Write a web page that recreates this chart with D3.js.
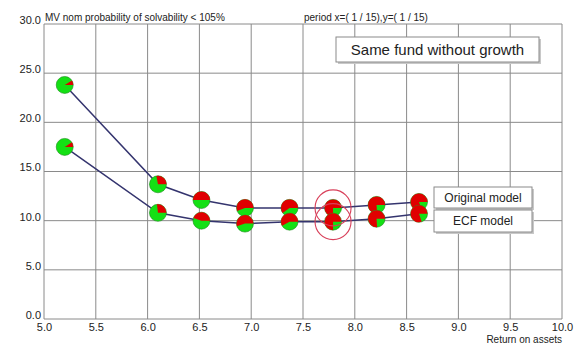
<!DOCTYPE html>
<html>
<head>
<meta charset="utf-8">
<script src="https://cdn.jsdelivr.net/npm/d3@7/dist/d3.min.js"></script>
<style>
  html, body { margin: 0; padding: 0; background: #fff; }
  svg { display: block; font-family: "Liberation Sans", Arial, sans-serif; }
</style>
</head>
<body>
<svg id="chart" width="579" height="347"></svg>
<script>
// Return on assets (x) for each computed point
const returnOnAssets = [5.2, 6.1, 6.52, 6.94, 7.37, 7.79, 8.21, 8.62];
// Probability of solvability < 105% (%), per model
const originalModel = [23.8, 13.7, 12.1, 11.3, 11.3, 11.3, 11.6, 11.9];
const ecfModel      = [17.5, 10.8, 10.0, 9.7, 9.9, 9.9, 10.2, 10.7];
// Red share of each pie marker
const originalRedShare = [0.09, 0.28, 0.5, 0.56, 0.6, 0.75, 0.76, 0.8];
const ecfRedShare      = [0.09, 0.27, 0.45, 0.55, 0.58, 0.75, 0.76, 0.8];
// Index of the highlighted point pair
const highlighted = [5];

const xTicks = [5.0, 5.5, 6.0, 6.5, 7.0, 7.5, 8.0, 8.5, 9.0, 9.5, 10.0];
const yTicks = [0, 5, 10, 15, 20, 25, 30];
const titleText = "MV nom probability of solvability < 105%";
const periodText = "period x=( 1 / 15),y=( 1 / 15)";
const noteText = "Same fund without growth";
const legendLabels = ["Original model", "ECF model"];
const xTitle = "Return on assets";

const svg = d3.select("#chart");
const x = d3.scaleLinear().domain([5, 10]).range([44, 562]);
const y = d3.scaleLinear().domain([0, 30]).range([319, 24]);

const gridColor = "#8a8a8a";
const textColor = "#222";

// grid
const grid = svg.append("g");
grid.selectAll("line.v").data(xTicks).join("line")
  .attr("x1", d => x(d)).attr("x2", d => x(d))
  .attr("y1", y(30)).attr("y2", y(0))
  .attr("stroke", gridColor).attr("stroke-width", 1);
grid.selectAll("line.h").data(yTicks).join("line")
  .attr("x1", x(5)).attr("x2", x(10))
  .attr("y1", d => y(d)).attr("y2", d => y(d))
  .attr("stroke", gridColor).attr("stroke-width", 1);

// axes (labels only, ticks drawn as grid)
const xAxis = d3.axisBottom(x).tickValues(xTicks).tickFormat(d3.format(".1f")).tickSize(0).tickPadding(3);
const gx = svg.append("g").attr("transform", `translate(0,${y(0)})`).call(xAxis);
gx.select(".domain").remove();
gx.selectAll("text").attr("fill", textColor).style("font-size", "11px")
  .attr("dy", "0.85em");

const yAxis = d3.axisLeft(y).tickValues(yTicks).tickFormat(d3.format(".1f")).tickSize(0).tickPadding(3);
const gy = svg.append("g").attr("transform", `translate(${x(5)},0)`).call(yAxis);
gy.select(".domain").remove();
gy.selectAll("text").attr("fill", textColor).style("font-size", "11px")
  .attr("dy", "-0.05em");

svg.append("text").attr("x", x(10)).attr("y", 343).attr("text-anchor", "end")
  .attr("fill", textColor).style("font-size", "10px").text(xTitle);

svg.append("text").attr("x", x(5) + 1).attr("y", 21)
  .attr("fill", textColor).style("font-size", "10px").text(titleText);
svg.append("text").attr("x", 304).attr("y", 21)
  .attr("fill", textColor).style("font-size", "10px").text(periodText);

// connecting lines
const line = d3.line().x((d, i) => x(returnOnAssets[i])).y(d => y(d));
[originalModel, ecfModel].forEach(series => {
  svg.append("path").datum(series).attr("d", line)
    .attr("fill", "none").attr("stroke", "#34346e").attr("stroke-width", 1.5);
});

// pie markers
const r = 8.5;
const arc = d3.arc().innerRadius(0).outerRadius(r);
function drawPies(values, shares) {
  const g = svg.append("g");
  values.forEach((v, i) => {
    const cx = x(returnOnAssets[i]), cy = y(v);
    const m = g.append("g").attr("transform", `translate(${cx},${cy})`);
    m.append("circle").attr("r", r).attr("fill", "#14e014")
      .attr("stroke", "#1c8a1c").attr("stroke-width", 0.6);
    const a = shares[i] * 2 * Math.PI;
    m.append("path")
      .attr("d", arc({ startAngle: Math.PI / 2 - a, endAngle: Math.PI / 2 }))
      .attr("fill", "#e00000");
  });
}
drawPies(originalModel, originalRedShare);
drawPies(ecfModel, ecfRedShare);

// highlight rings around selected pair
highlighted.forEach(i => {
  [originalModel[i], ecfModel[i]].forEach(v => {
    svg.append("circle").attr("cx", x(returnOnAssets[i])).attr("cy", y(v))
      .attr("r", 18).attr("fill", "none").attr("stroke", "#d8405a").attr("stroke-width", 1.1);
  });
});

// note box
function box(x0, y0, w, h, text, size) {
  svg.append("rect").attr("x", x0 + 2).attr("y", y0 + 2).attr("width", w).attr("height", h)
    .attr("fill", "#c8c8c8");
  svg.append("rect").attr("x", x0).attr("y", y0).attr("width", w).attr("height", h)
    .attr("fill", "#fff").attr("stroke", "#8a8a8a").attr("stroke-width", 1);
  svg.append("text").attr("x", x0 + w / 2).attr("y", y0 + h / 2).attr("dy", "0.36em")
    .attr("text-anchor", "middle").attr("fill", textColor).style("font-size", size + "px").text(text);
}
box(336, 37, 203, 25, noteText, 15);
box(434, 187, 98, 21, legendLabels[0], 12);
box(434, 210, 98, 22, legendLabels[1], 12);
</script>
</body>
</html>
